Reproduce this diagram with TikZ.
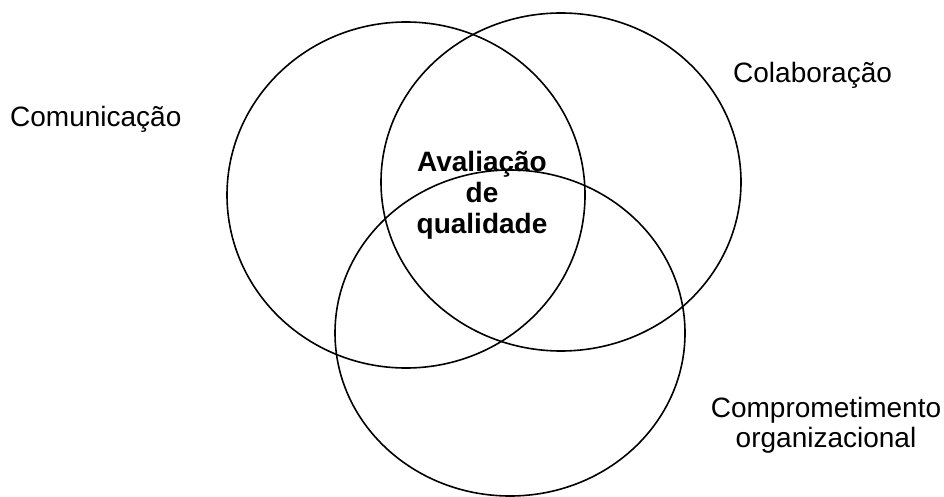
\documentclass[tikz,border=0pt]{standalone}
\usepackage{fontspec}
\setmainfont{Liberation Sans}
\usetikzlibrary{positioning}
\tikzstyle{c}=[draw, line width=1.6pt]
\tikzstyle{t}=[inner sep=0pt, align=center, font=\fontsize{28}{30}\selectfont]

\begin{document}
\begin{tikzpicture}[x=1pt,y=-1pt]
		\useasboundingbox (0,0) rectangle (944,497);
		\draw[c] (406,195) ellipse [x radius=179pt, y radius=173pt];
		\draw[c] (561,182) ellipse [x radius=180pt, y radius=169pt];
		\draw[c] (510,333) ellipse [x radius=175pt, y radius=163pt];
		\node[t, anchor=base west] (com) at (10,127) {Comunica\c{c}\~ao};
		\node[t, anchor=base west] (col) at (733,83) {Colabora\c{c}\~ao};
		\node[t, anchor=base] (cmp) at (826,447) {Comprometimento\\organizacional};
		\node[t, anchor=base, font=\fontsize{28}{31}\selectfont\bfseries] (ava) at (482,233) {Avalia\c{c}\~ao\\de\\qualidade};
	\end{tikzpicture}
\end{document}
